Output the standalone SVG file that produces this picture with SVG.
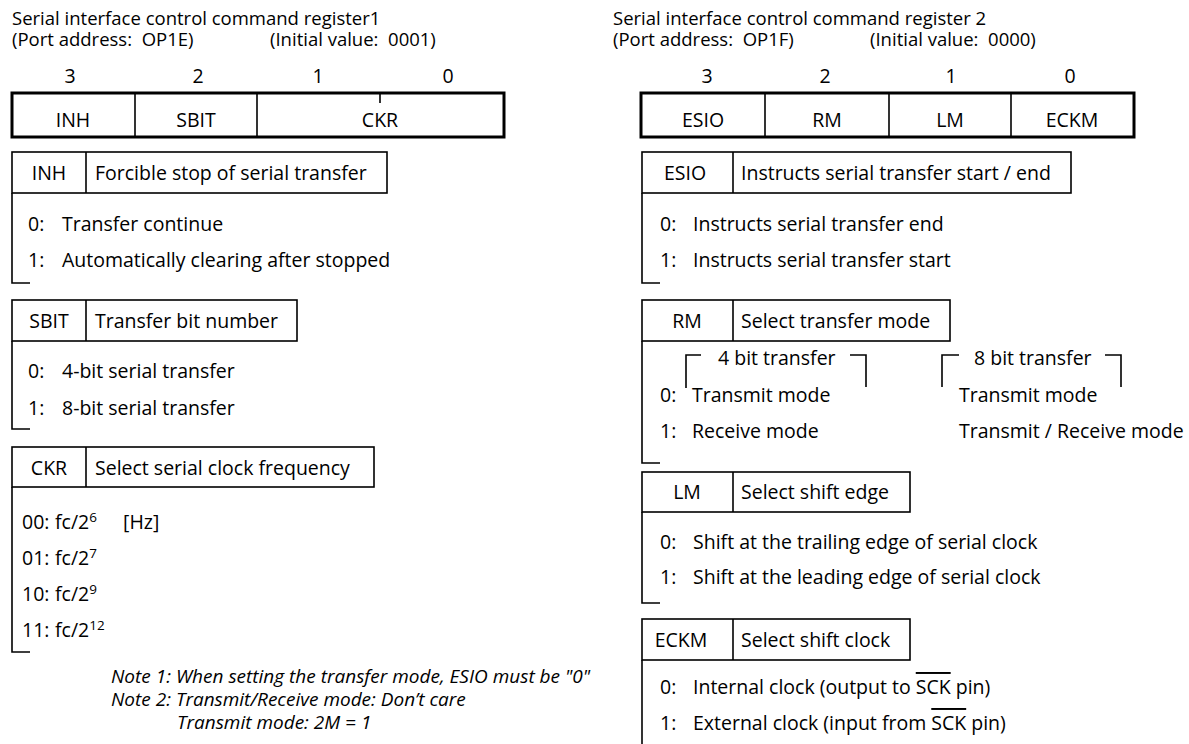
<svg xmlns="http://www.w3.org/2000/svg" width="1189" height="744" viewBox="0 0 1189 744">
<style>
text{font-family:"Open Sans","Noto Sans",sans-serif;font-size:19.5px;fill:#000}
.t{font-size:18.5px}
.c{text-anchor:middle}
.it{font-style:italic;font-size:19px}
.reg{fill:none;stroke:#000;stroke-width:3}
.hd{fill:none;stroke:#000;stroke-width:1.6}
.ln{fill:none;stroke:#000;stroke-width:1.6}
.sup{font-size:13.5px}
.ov{text-decoration:overline}
</style>
<rect width="1189" height="744" fill="#fff"/>
<g id="title-left"><text class="t" x="12" y="25">Serial interface control command register1</text><text class="t" x="12" y="46">(Port address:&#160; OP1E)</text><text class="t" x="270" y="46">(Initial value:&#160; 0001)</text></g>
<g id="register1"><text class="c" x="70" y="83">3</text><text class="c" x="198" y="83">2</text><text class="c" x="318" y="83">1</text><text class="c" x="448" y="83">0</text><rect class="reg" x="12" y="93" width="492" height="44"/><line class="ln" x1="135" y1="93" x2="135" y2="137"/><line class="ln" x1="257" y1="93" x2="257" y2="137"/><line class="ln" x1="380" y1="93" x2="380" y2="103"/><text class="c" x="73" y="127">INH</text><text class="c" x="196" y="127">SBIT</text><text class="c" x="380" y="127">CKR</text></g>
<g id="inh"><rect class="hd" x="12" y="152" width="375" height="41"/><line class="ln" x1="86" y1="152" x2="86" y2="193"/><text class="c" x="49" y="180">INH</text><text x="95" y="180">Forcible stop of serial transfer</text><text x="28" y="231">0:</text><text x="62" y="231">Transfer continue</text><text x="28" y="267">1:</text><text x="62" y="267">Automatically clearing after stopped</text><path class="ln" d="M12 193V283H30"/></g>
<g id="sbit"><rect class="hd" x="12" y="300" width="285" height="41"/><line class="ln" x1="86" y1="300" x2="86" y2="341"/><text class="c" x="49" y="328">SBIT</text><text x="95" y="328">Transfer bit number</text><text x="28" y="378">0:</text><text x="62" y="378">4-bit serial transfer</text><text x="28" y="415">1:</text><text x="62" y="415">8-bit serial transfer</text><path class="ln" d="M12 341V429H30"/></g>
<g id="ckr"><rect class="hd" x="12" y="447" width="362" height="40"/><line class="ln" x1="86" y1="447" x2="86" y2="487"/><text class="c" x="49" y="475">CKR</text><text x="95" y="475">Select serial clock frequency</text><text x="22" y="529">00:</text><text x="55" y="529">fc/2<tspan class="sup" dy="-7">6</tspan></text><text x="123" y="529">[Hz]</text><text x="22" y="565">01:</text><text x="55" y="565">fc/2<tspan class="sup" dy="-7">7</tspan></text><text x="22" y="601">10:</text><text x="55" y="601">fc/2<tspan class="sup" dy="-7">9</tspan></text><text x="22" y="637">11:</text><text x="55" y="637">fc/2<tspan class="sup" dy="-7">12</tspan></text><path class="ln" d="M12 487V652H30"/></g>
<g id="notes"><text class="it" x="111" y="683">Note 1: When setting the transfer mode, ESIO must be "0"</text><text class="it" x="111" y="706">Note 2: Transmit/Receive mode: Don’t care</text><text class="it" x="177" y="729">Transmit mode: 2M = 1</text></g>
<g id="title-right"><text class="t" x="613" y="25">Serial interface control command register 2</text><text class="t" x="613" y="46">(Port address:&#160; OP1F)</text><text class="t" x="870" y="46">(Initial value:&#160; 0000)</text></g>
<g id="register2"><text class="c" x="707" y="83">3</text><text class="c" x="825" y="83">2</text><text class="c" x="951" y="83">1</text><text class="c" x="1070" y="83">0</text><rect class="reg" x="641" y="93" width="493" height="44"/><line class="ln" x1="765" y1="93" x2="765" y2="137"/><line class="ln" x1="889" y1="93" x2="889" y2="137"/><line class="ln" x1="1011" y1="93" x2="1011" y2="137"/><text class="c" x="703" y="127">ESIO</text><text class="c" x="827" y="127">RM</text><text class="c" x="950" y="127">LM</text><text class="c" x="1072" y="127">ECKM</text></g>
<g id="esio"><rect class="hd" x="642" y="152" width="429" height="41"/><line class="ln" x1="733" y1="152" x2="733" y2="193"/><text class="c" x="685" y="180">ESIO</text><text x="741" y="180">Instructs serial transfer start / end</text><text x="660" y="231">0:</text><text x="693" y="231">Instructs serial transfer end</text><text x="660" y="267">1:</text><text x="693" y="267">Instructs serial transfer start</text><path class="ln" d="M642 193V283H660"/></g>
<g id="rm"><rect class="hd" x="642" y="300" width="308" height="41"/><line class="ln" x1="733" y1="300" x2="733" y2="341"/><text class="c" x="687" y="328">RM</text><text x="741" y="328">Select transfer mode</text><path class="ln" d="M686 388V355H701M850 355H866V387M942 387V355H959M1105 355H1121V387"/><text x="718" y="365">4 bit transfer</text><text x="974" y="365">8 bit transfer</text><text x="660" y="402">0:</text><text x="692" y="402">Transmit mode</text><text x="959" y="402">Transmit mode</text><text x="660" y="438">1:</text><text x="692" y="438">Receive mode</text><text x="959" y="438">Transmit / Receive mode</text><path class="ln" d="M642 341V463H660"/></g>
<g id="lm"><rect class="hd" x="642" y="472" width="268" height="40"/><line class="ln" x1="733" y1="472" x2="733" y2="512"/><text class="c" x="687" y="499">LM</text><text x="741" y="499">Select shift edge</text><text x="660" y="549">0:</text><text x="693" y="549">Shift at the trailing edge of serial clock</text><text x="660" y="584">1:</text><text x="693" y="584">Shift at the leading edge of serial clock</text><path class="ln" d="M642 512V603H660"/></g>
<g id="eckm"><rect class="hd" x="642" y="619" width="268" height="41"/><line class="ln" x1="733" y1="619" x2="733" y2="660"/><text class="c" x="681" y="647">ECKM</text><text x="741" y="647">Select shift clock</text><text x="660" y="694">0:</text><text x="693" y="694">Internal clock (output to <tspan class="ov">SCK</tspan> pin)</text><text x="660" y="730">1:</text><text x="693" y="730">External clock (input from <tspan class="ov">SCK</tspan> pin)</text><path class="ln" d="M642 660V744"/></g>
<g id="connectors"/>
</svg>
